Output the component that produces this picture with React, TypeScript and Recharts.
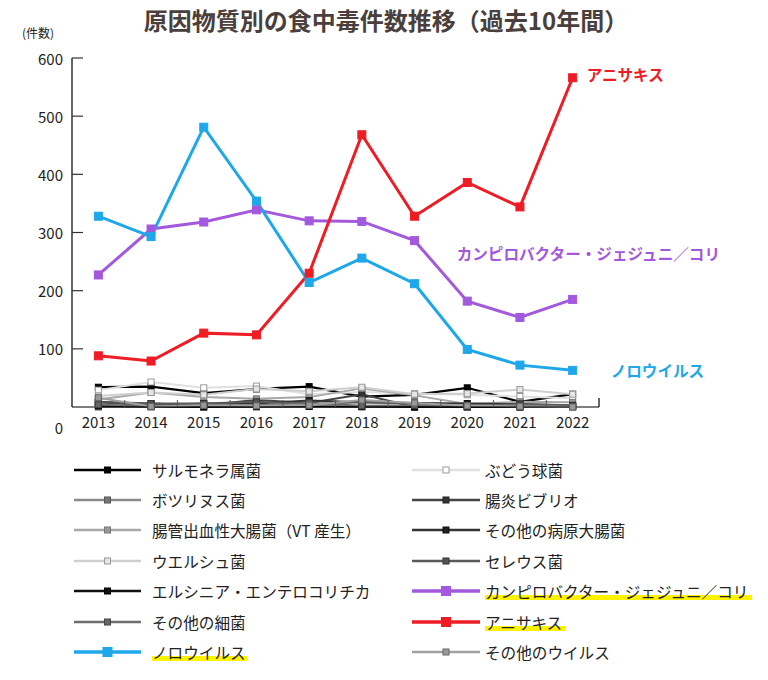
import { Legend, Line, LineChart, XAxis, YAxis } from 'recharts';

const years = ['2013', '2014', '2015', '2016', '2017', '2018', '2019', '2020', '2021', '2022'];
const yTicks = [0, 100, 200, 300, 400, 500, 600];

const salmonella = [34, 35, 24, 31, 35, 18, 21, 33, 9, 22];
const staph = [29, 43, 33, 36, 22, 26, 23, 21, 18, 15];
const botulism = [0, 0, 0, 0, 1, 0, 0, 0, 1, 1];
const vibrio = [9, 6, 3, 12, 7, 22, 0, 1, 0, 0];
const ehec = [13, 25, 17, 14, 17, 32, 20, 5, 9, 8];
const otherEcoli = [8, 3, 6, 6, 11, 8, 7, 6, 5, 2];
const welchii = [19, 25, 21, 31, 27, 34, 22, 23, 30, 22];
const cereus = [8, 6, 6, 9, 5, 8, 6, 1, 5, 3];
const yersinia = [2, 1, 0, 1, 1, 1, 0, 0, 0, 1];
const campylobacter = [227, 306, 318, 339, 320, 319, 286, 182, 154, 185];
const otherBacteria = [4, 2, 3, 3, 7, 2, 3, 2, 3, 1];
const anisakis = [88, 79, 127, 124, 230, 468, 328, 386, 344, 566];
const norovirus = [328, 293, 481, 354, 214, 256, 212, 99, 72, 63];
const otherVirus = [16, 1, 3, 2, 3, 12, 7, 2, 1, 0];

const FONT = '"Noto Sans CJK JP", "Noto Sans", sans-serif';
const PLOT_LEFT = 72;
const PLOT_RIGHT = 599;
const PLOT_TOP = 58;
const PLOT_BOTTOM = 407;
const HALF_BAND = (PLOT_RIGHT - PLOT_LEFT) / years.length / 2;

type Series = {
  key: string;
  name: string;
  values: number[];
  stroke: string;
  fill: string;
  border: string;
  width: number;
  size: number;
  highlight?: boolean;
  col: number;
  row: number;
};

const series: Series[] = [
  { key: 'salmonella', name: 'サルモネラ属菌', values: salmonella, stroke: '#000', fill: '#000', border: '#000', width: 2.2, size: 6, col: 0, row: 0 },
  { key: 'staph', name: 'ぶどう球菌', values: staph, stroke: '#e0e0e0', fill: '#fff', border: '#999', width: 2, size: 6, col: 1, row: 0 },
  { key: 'botulism', name: 'ボツリヌス菌', values: botulism, stroke: '#8a8a8a', fill: '#777', border: '#555', width: 2, size: 6, col: 0, row: 1 },
  { key: 'vibrio', name: '腸炎ビブリオ', values: vibrio, stroke: '#444', fill: '#333', border: '#222', width: 2, size: 6, col: 1, row: 1 },
  { key: 'ehec', name: '腸管出血性大腸菌（VT 産生）', values: ehec, stroke: '#a8a8a8', fill: '#999', border: '#777', width: 2, size: 6, col: 0, row: 2 },
  { key: 'otherEcoli', name: 'その他の病原大腸菌', values: otherEcoli, stroke: '#333', fill: '#222', border: '#111', width: 2, size: 6, col: 1, row: 2 },
  { key: 'welchii', name: 'ウエルシュ菌', values: welchii, stroke: '#cfcfcf', fill: '#e6e6e6', border: '#999', width: 2, size: 6, col: 0, row: 3 },
  { key: 'cereus', name: 'セレウス菌', values: cereus, stroke: '#5a5a5a', fill: '#555', border: '#333', width: 2, size: 6, col: 1, row: 3 },
  { key: 'yersinia', name: 'エルシニア・エンテロコリチカ', values: yersinia, stroke: '#111', fill: '#111', border: '#000', width: 2, size: 6, col: 0, row: 4 },
  { key: 'campylobacter', name: 'カンピロバクター・ジェジュニ／コリ', values: campylobacter, stroke: '#a259dd', fill: '#a259dd', border: '#a259dd', width: 3, size: 8, highlight: true, col: 1, row: 4 },
  { key: 'otherBacteria', name: 'その他の細菌', values: otherBacteria, stroke: '#6e6e6e', fill: '#666', border: '#444', width: 2, size: 6, col: 0, row: 5 },
  { key: 'anisakis', name: 'アニサキス', values: anisakis, stroke: '#ee1c25', fill: '#ee1c25', border: '#ee1c25', width: 3, size: 8, highlight: true, col: 1, row: 5 },
  { key: 'norovirus', name: 'ノロウイルス', values: norovirus, stroke: '#1ea7e9', fill: '#1ea7e9', border: '#1ea7e9', width: 3, size: 8, highlight: true, col: 0, row: 6 },
  { key: 'otherVirus', name: 'その他のウイルス', values: otherVirus, stroke: '#a0a0a0', fill: '#999', border: '#666', width: 2, size: 6, col: 1, row: 6 },
];

const data = years.map((year, i) => {
  const row: Record<string, string | number> = { year };
  series.forEach((s) => {
    row[s.key] = s.values[i];
  });
  return row;
});

// end-of-line labels for the three big series
const endLabels: Record<string, { dx: number; dy: number }> = {
  anisakis: { dx: 14, dy: -4 },
  campylobacter: { dx: -116, dy: -46 },
  norovirus: { dx: 38, dy: 0 },
};

function makeDot(s: Series) {
  return (props: any) => {
    const { cx, cy, index } = props;
    if (cx == null || cy == null) return <g key={`${s.key}-${index}`} />;
    return (
      <rect
        key={`${s.key}-${index}`}
        x={cx - s.size / 2}
        y={cy - s.size / 2}
        width={s.size}
        height={s.size}
        fill={s.fill}
        stroke={s.border}
        strokeWidth={1}
      />
    );
  };
}

function makeLabel(s: Series) {
  const pos = endLabels[s.key];
  return (props: any) => {
    const { x, y, index } = props;
    if (!pos || index !== years.length - 1) return <g key={`${s.key}-l-${index}`} />;
    return (
      <text
        key={`${s.key}-l-${index}`}
        x={x + pos.dx}
        y={y + pos.dy}
        dominantBaseline="central"
        fill={s.stroke}
        fontFamily={FONT}
        fontWeight={700}
        fontSize={15.6}
      >
        {s.name}
      </text>
    );
  };
}

function YTick(props: any) {
  const { payload } = props;
  const y = payload.coordinate;
  const isZero = payload.value === 0;
  return (
    <g>
      {!isZero && <line x1={PLOT_LEFT} x2={PLOT_LEFT + 11} y1={y} y2={y} stroke="#333" strokeWidth={1.2} />}
      <text
        x={PLOT_LEFT - 9}
        y={isZero ? y + 20 : y}
        textAnchor="end"
        dominantBaseline="central"
        fill="#222"
        fontFamily={FONT}
        fontSize={15}
      >
        {payload.value}
      </text>
    </g>
  );
}

function XTick(props: any) {
  const { payload, index } = props;
  const x = payload.coordinate;
  return (
    <g>
      {index > 0 && <line x1={x - HALF_BAND} x2={x - HALF_BAND} y1={PLOT_BOTTOM} y2={PLOT_BOTTOM - 7} stroke="#555" strokeWidth={1} />}
      {index === years.length - 1 && (
        <line x1={x + HALF_BAND} x2={x + HALF_BAND} y1={PLOT_BOTTOM} y2={PLOT_BOTTOM - 9} stroke="#000" strokeWidth={1.2} />
      )}
      <text x={x} y={PLOT_BOTTOM + 14} textAnchor="middle" dominantBaseline="central" fill="#222" fontFamily={FONT} fontSize={15}>
        {payload.value}
      </text>
    </g>
  );
}

const ROW_Y = [15, 45, 75, 106, 136, 167, 197];
const COLS = [
  { lineX1: 74, lineX2: 141, textX: 152 },
  { lineX1: 412, lineX2: 480, textX: 485 },
];
const LEGEND_FONT = 15.6;

function ChartLegend() {
  return (
    <svg width={768} height={225} style={{ display: 'block' }}>
      {series.map((s) => {
        const c = COLS[s.col];
        const y = ROW_Y[s.row];
        const mid = (c.lineX1 + c.lineX2) / 2;
        const size = s.highlight ? 9 : 6;
        const textW = s.name.length * LEGEND_FONT + 2;
        return (
          <g key={s.key}>
            <line x1={c.lineX1} x2={c.lineX2} y1={y} y2={y} stroke={s.stroke} strokeWidth={s.highlight ? 3.5 : 2.5} />
            <rect x={mid - size / 2} y={y - size / 2} width={size} height={size} fill={s.fill} stroke={s.border} strokeWidth={1} />
            {s.highlight && <rect x={c.textX} y={y + 4} width={textW} height={5} fill="#fff200" />}
            <text x={c.textX} y={y} dominantBaseline="central" fill="#222" fontFamily={FONT} fontSize={LEGEND_FONT}>
              {s.name}
            </text>
          </g>
        );
      })}
    </svg>
  );
}

export default function App() {
  return (
    <div style={{ position: 'absolute', left: 0, top: 0, width: 768, height: 680, background: '#fff' }}>
      <div
        style={{
          position: 'absolute',
          left: 0,
          top: 4,
          width: 772,
          textAlign: 'center',
          fontFamily: FONT,
          fontWeight: 700,
          fontSize: 24,
          lineHeight: '32px',
          color: '#4a3f3c',
        }}
      >
        原因物質別の食中毒件数推移（過去10年間）
      </div>
      <div style={{ position: 'absolute', left: 22, top: 24, fontFamily: FONT, fontSize: 12, lineHeight: '18px', color: '#222' }}>
        (件数)
      </div>
      <LineChart
        width={768}
        height={680}
        data={data}
        margin={{ top: PLOT_TOP, left: PLOT_LEFT - 60, right: 768 - PLOT_RIGHT, bottom: 680 - PLOT_BOTTOM - 30 }}
      >
        <XAxis
          dataKey="year"
          height={30}
          padding={{ left: HALF_BAND, right: HALF_BAND }}
          axisLine={{ stroke: '#000', strokeWidth: 1.2 }}
          tickLine={false}
          tick={<XTick />}
          interval={0}
        />
        <YAxis
          width={60}
          domain={[0, 600]}
          ticks={yTicks}
          axisLine={{ stroke: '#000', strokeWidth: 1.2 }}
          tickLine={false}
          tick={<YTick />}
        />
        <Legend
          layout="horizontal"
          verticalAlign="middle"
          align="center"
          wrapperStyle={{ position: 'absolute', left: 0, top: 455, width: 768, height: 225 }}
          content={() => <ChartLegend />}
        />
        {series.map((s) => (
          <Line
            key={s.key}
            dataKey={s.key}
            name={s.name}
            type="linear"
            stroke={s.stroke}
            strokeWidth={s.width}
            dot={makeDot(s)}
            activeDot={false}
            label={endLabels[s.key] ? makeLabel(s) : false}
            isAnimationActive={false}
          />
        ))}
      </LineChart>
    </div>
  );
}
